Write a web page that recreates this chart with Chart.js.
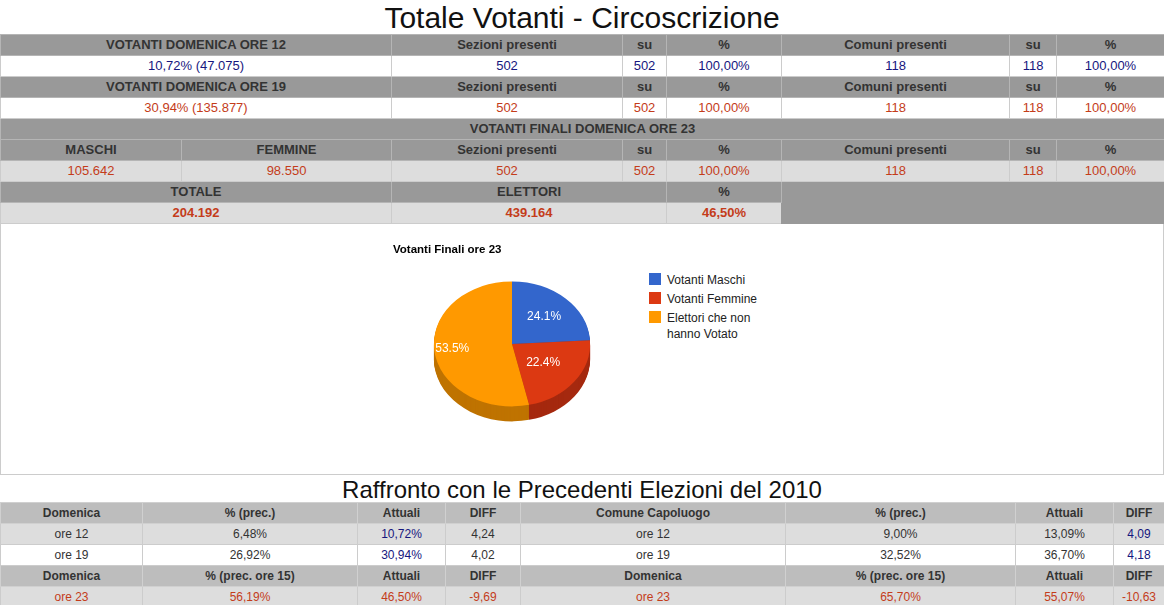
<!DOCTYPE html>
<html>
<head>
<meta charset="utf-8">
<script src="https://cdn.jsdelivr.net/npm/chart.js@4.4.1/dist/chart.umd.min.js"></script>
<style>
  body { margin: 0; background: #fff; font-family: Arial, "Liberation Sans", sans-serif; font-size: 12px; color: #333; }
  .wrap { position: relative; width: 1164px; }
  h1 { margin: 0; height: 34px; line-height: 36px; font-size: 30px; font-weight: normal; text-align: center; color: #111; }
  h2 { margin: 0; height: 27px; line-height: 30px; font-size: 24px; font-weight: normal; text-align: center; color: #111; }
  table { border-collapse: collapse; width: 1164px; table-layout: fixed; }
  td { height: 20px; line-height: 20px; padding: 0; border: 1px solid #ccc; text-align: center; white-space: nowrap; overflow: hidden; }
  .top td { font-size: 13px; }
  .top td.h { background: #999; font-weight: bold; color: #333; border-color: #b5b5b5; }
  .bot td.h { background: #bdbdbd; font-weight: bold; color: #333; border-color: #d0d0d0; }
  td.w { background: #fff; }
  td.g { background: #ddd; }
  td.dk { background: #999; border-color: #999; }
  .blu { color: #16167e; }
  .red { color: #c43c1a; }
  .b { font-weight: bold; }
  .box { position: relative; height: 251px; border: 1px solid #ccc; border-top: none; box-sizing: border-box; width: 1164px; }
  #pie { position: absolute; left: 392px; top: 9px; }
  .legend { position: absolute; left: 648px; top: 49px; font-size: 12px; color: #222; }
  .legend div { position: relative; padding-left: 18px; line-height: 15.5px; margin-bottom: 3.5px; width: 100px; white-space: normal; }
  .legend span { position: absolute; left: 0; top: 0; width: 12px; height: 12px; }
</style>
</head>
<body>
<div class="wrap">
<h1>Totale Votanti - Circoscrizione</h1>
<table class="top">
  <colgroup>
    <col style="width:181px"><col style="width:210px"><col style="width:231px"><col style="width:44px">
    <col style="width:115px"><col style="width:228px"><col style="width:47px"><col style="width:108px">
  </colgroup>
  <tr><td class="h" colspan="2">VOTANTI DOMENICA ORE 12</td><td class="h">Sezioni presenti</td><td class="h">su</td><td class="h">%</td><td class="h">Comuni presenti</td><td class="h">su</td><td class="h">%</td></tr>
  <tr class="blu"><td class="w" colspan="2">10,72% (47.075)</td><td class="w">502</td><td class="w">502</td><td class="w">100,00%</td><td class="w">118</td><td class="w">118</td><td class="w">100,00%</td></tr>
  <tr><td class="h" colspan="2">VOTANTI DOMENICA ORE 19</td><td class="h">Sezioni presenti</td><td class="h">su</td><td class="h">%</td><td class="h">Comuni presenti</td><td class="h">su</td><td class="h">%</td></tr>
  <tr class="red"><td class="w" colspan="2">30,94% (135.877)</td><td class="w">502</td><td class="w">502</td><td class="w">100,00%</td><td class="w">118</td><td class="w">118</td><td class="w">100,00%</td></tr>
  <tr><td class="h" colspan="8">VOTANTI FINALI DOMENICA ORE 23</td></tr>
  <tr><td class="h">MASCHI</td><td class="h">FEMMINE</td><td class="h">Sezioni presenti</td><td class="h">su</td><td class="h">%</td><td class="h">Comuni presenti</td><td class="h">su</td><td class="h">%</td></tr>
  <tr class="red"><td class="g">105.642</td><td class="g">98.550</td><td class="g">502</td><td class="g">502</td><td class="g">100,00%</td><td class="g">118</td><td class="g">118</td><td class="g">100,00%</td></tr>
  <tr><td class="h" colspan="2">TOTALE</td><td class="h" colspan="2">ELETTORI</td><td class="h">%</td><td class="dk" colspan="3" rowspan="2"></td></tr>
  <tr class="red b"><td class="g" colspan="2">204.192</td><td class="g" colspan="2">439.164</td><td class="g">46,50%</td></tr>
</table>
<div class="box">
  <canvas id="pie" width="238" height="209"></canvas>
  <div class="legend" id="legend"></div>
</div>
<h2>Raffronto con le Precedenti Elezioni del 2010</h2>
<table class="bot">
  <colgroup>
    <col style="width:142px"><col style="width:215px"><col style="width:88px"><col style="width:75px">
    <col style="width:265px"><col style="width:230px"><col style="width:98px"><col style="width:51px">
  </colgroup>
  <tr><td class="h">Domenica</td><td class="h">% (prec.)</td><td class="h">Attuali</td><td class="h">DIFF</td><td class="h">Comune Capoluogo</td><td class="h">% (prec.)</td><td class="h">Attuali</td><td class="h">DIFF</td></tr>
  <tr><td class="g">ore 12</td><td class="g">6,48%</td><td class="g blu">10,72%</td><td class="g">4,24</td><td class="g">ore 12</td><td class="g">9,00%</td><td class="g">13,09%</td><td class="g blu">4,09</td></tr>
  <tr><td class="w">ore 19</td><td class="w">26,92%</td><td class="w blu">30,94%</td><td class="w">4,02</td><td class="w">ore 19</td><td class="w">32,52%</td><td class="w">36,70%</td><td class="w blu">4,18</td></tr>
  <tr><td class="h">Domenica</td><td class="h">% (prec. ore 15)</td><td class="h">Attuali</td><td class="h">DIFF</td><td class="h">Domenica</td><td class="h">% (prec. ore 15)</td><td class="h">Attuali</td><td class="h">DIFF</td></tr>
  <tr class="red"><td class="g">ore 23</td><td class="g">56,19%</td><td class="g">46,50%</td><td class="g">-9,69</td><td class="g">ore 23</td><td class="g">65,70%</td><td class="g">55,07%</td><td class="g">-10,63</td></tr>
</table>
</div>

<script>
// pie data: voters at 23:00 vs electors who did not vote
const sliceLabels = ['Votanti Maschi', 'Votanti Femmine', 'Elettori che non hanno Votato'];
const sliceValues = [105642, 98550, 234972];

const topColors = ['#3366cc', '#dc3912', '#ff9900'];
const sideColors = ['#264c99', '#a5290f', '#bf7300'];
const labelRadius = [0.6, 0.5, 0.77];
const tilt = 0.8;
const depth = 15;

Chart.defaults.font.family = 'Arial, "Liberation Sans", sans-serif';

// fake 3d: squash the pie and stack darker copies underneath
const pie3d = {
  id: 'pie3d',
  beforeDatasetsDraw(chart) {
    const ctx = chart.ctx;
    const arcs = chart.getDatasetMeta(0).data;
    if (!arcs.length) return;
    const cx = arcs[0].x, cy = arcs[0].y;
    for (let d = depth; d > 0; d--) {
      ctx.save();
      ctx.translate(cx, cy + d);
      ctx.scale(1, tilt);
      arcs.forEach((arc, i) => {
        ctx.beginPath();
        ctx.moveTo(0, 0);
        ctx.arc(0, 0, arc.outerRadius, arc.startAngle, arc.endAngle);
        ctx.closePath();
        ctx.fillStyle = sideColors[i];
        ctx.fill();
      });
      ctx.restore();
    }
  },
  beforeDatasetDraw(chart) {
    const ctx = chart.ctx;
    const arcs = chart.getDatasetMeta(0).data;
    const cx = arcs[0].x, cy = arcs[0].y;
    ctx.save();
    ctx.translate(cx, cy);
    ctx.scale(1, tilt);
    ctx.translate(-cx, -cy);
  },
  afterDatasetDraw(chart) {
    chart.ctx.restore();
  },
  afterDatasetsDraw(chart) {
    const ctx = chart.ctx;
    const arcs = chart.getDatasetMeta(0).data;
    const total = sliceValues.reduce((a, b) => a + b, 0);
    ctx.save();
    ctx.fillStyle = '#fff';
    ctx.font = '12px Arial, "Liberation Sans", sans-serif';
    ctx.textAlign = 'center';
    ctx.textBaseline = 'middle';
    arcs.forEach((arc, i) => {
      const mid = (arc.startAngle + arc.endAngle) / 2;
      const r = arc.outerRadius * labelRadius[i];
      const x = arc.x + r * Math.cos(mid);
      const y = arc.y + tilt * r * Math.sin(mid);
      ctx.fillText((sliceValues[i] / total * 100).toFixed(1) + '%', x, y);
    });
    ctx.restore();
  }
};

new Chart(document.getElementById('pie'), {
  type: 'pie',
  data: {
    labels: sliceLabels,
    datasets: [{
      data: sliceValues,
      backgroundColor: topColors,
      borderWidth: 0,
      hoverOffset: 0,
      clip: false
    }]
  },
  options: {
    responsive: false,
    animation: false,
    events: [],
    layout: { padding: { left: 0, right: 0, top: 0, bottom: 20 } },
    plugins: {
      legend: { display: false },
      tooltip: { enabled: false },
      title: {
        display: true,
        text: 'Votanti Finali ore 23',
        align: 'start',
        color: '#000',
        font: { size: 11.5, weight: 'bold' },
        padding: { top: 10, bottom: 9 }
      }
    }
  },
  plugins: [pie3d]
});

// legend built from the same labels
const legend = document.getElementById('legend');
sliceLabels.forEach((lab, i) => {
  const row = document.createElement('div');
  row.innerHTML = '<span style="background:' + topColors[i] + '"></span>' + lab;
  legend.appendChild(row);
});
</script>
</body>
</html>
